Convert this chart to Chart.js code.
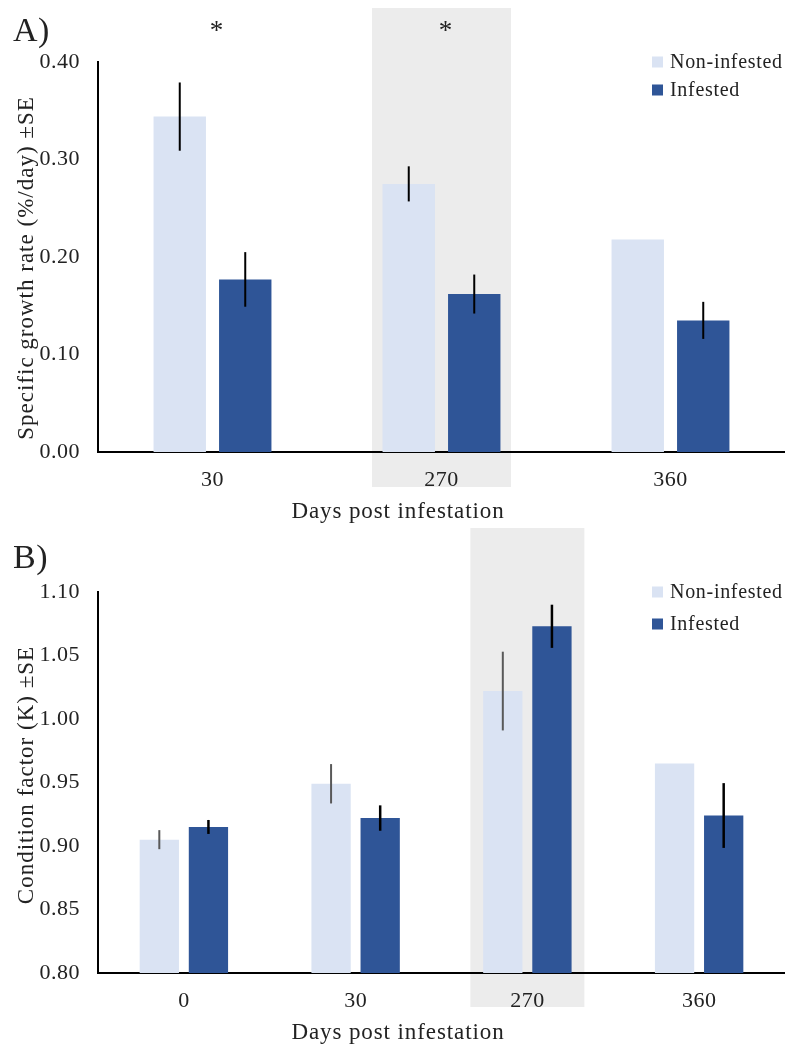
<!DOCTYPE html>
<html>
<head>
<meta charset="utf-8">
<script src="https://cdn.jsdelivr.net/npm/chart.js@4.4.1/dist/chart.umd.min.js"></script>
<style>
  html, body { margin: 0; padding: 0; background: #fff; }
  #wrap { position: relative; width: 785px; height: 1046px; }
  .panel { position: absolute; left: 0; width: 785px; }
  #panelA { top: 0; height: 525px; }
  #panelB { top: 525px; height: 521px; }
</style>
</head>
<body>
<div id="wrap">
  <div class="panel" id="panelA"><canvas id="chartA"></canvas></div>
  <div class="panel" id="panelB"><canvas id="chartB"></canvas></div>
</div>
<script>
const seriesNames = ['Non-infested', 'Infested'];
const colNon = '#dae3f3';
const colInf = '#2f5597';

// A) specific growth rate
const daysA = ['30', '270', '360'];
const sgrNon = [0.344, 0.275, 0.218];
const sgrNonSE = [0.035, 0.018, 0];
const sgrInf = [0.177, 0.162, 0.135];
const sgrInfSE = [0.028, 0.020, 0.019];
const sgrTicks = [0, 0.1, 0.2, 0.3, 0.4];
const sgrStars = ['*', '*', ''];

// B) condition factor
const daysB = ['0', '30', '270', '360'];
const kNon = [0.905, 0.949, 1.022, 0.965];
const kNonSE = [0.0075, 0.0155, 0.031, 0];
const kInf = [0.915, 0.922, 1.073, 0.924];
const kInfSE = [0.0055, 0.010, 0.017, 0.0255];
const kTicks = [0.8, 0.85, 0.9, 0.95, 1.0, 1.05, 1.1];
const kStars = ['', '', '', ''];

const serif = '"Liberation Serif", "Times New Roman", serif';
const ink = '#222';

// shaded column, error bars, stars, legend, titles and panel letter
const decor = {
    id: 'decor',
    beforeDraw(chart, args, o) {
        const { ctx, scales: { x } } = chart;
        const w = x.width / chart.data.labels.length * o.bandFrac;
        const cx = x.getPixelForValue(o.bandIndex);
        ctx.save();
        ctx.fillStyle = '#ececec';
        ctx.fillRect(cx - w / 2, o.bandTop, w, o.bandBottom - o.bandTop);
        ctx.restore();
        // tick labels are a bit spread out
        ctx.letterSpacing = '0.5px';
    },
    afterDatasetsDraw(chart, args, o) {
        const { ctx, scales: { x, y } } = chart;
        ctx.save();
        chart.data.datasets.forEach((ds, i) => {
            const meta = chart.getDatasetMeta(i);
            meta.data.forEach((bar, j) => {
                const se = ds.se[j];
                if (!se) return;
                ctx.strokeStyle = ds.errColor;
                ctx.lineWidth = ds.errWidth;
                ctx.beginPath();
                ctx.moveTo(bar.x, y.getPixelForValue(ds.data[j] + se));
                ctx.lineTo(bar.x, y.getPixelForValue(ds.data[j] - se));
                ctx.stroke();
            });
        });

        // significance stars
        ctx.letterSpacing = '0px';
        ctx.fillStyle = ink;
        ctx.font = '27px ' + serif;
        ctx.textAlign = 'center';
        ctx.textBaseline = 'alphabetic';
        o.stars.forEach((s, i) => {
            if (s) ctx.fillText(s, x.getPixelForValue(i) + 4, o.starY);
        });

        // legend
        ctx.letterSpacing = '0.7px';
        ctx.font = '20px ' + serif;
        ctx.textAlign = 'left';
        ctx.textBaseline = 'middle';
        chart.data.datasets.forEach((ds, i) => {
            const cy = o.legendY[i];
            ctx.fillStyle = ds.backgroundColor;
            ctx.fillRect(652, cy - 5.5, 11, 11);
            ctx.fillStyle = ink;
            ctx.fillText(ds.label, 670, cy + 1);
        });

        // panel letter
        ctx.letterSpacing = '0.5px';
        ctx.font = '34px ' + serif;
        ctx.textBaseline = 'alphabetic';
        ctx.fillText(o.letter, 13, o.letterY);

        // axis titles
        ctx.letterSpacing = '0.9px';
        ctx.font = '23px ' + serif;
        ctx.textAlign = 'center';
        ctx.textBaseline = 'middle';
        ctx.fillText('Days post infestation', 398, o.xTitleY);

        ctx.letterSpacing = '1px';
        ctx.translate(27, o.yTitleY);
        ctx.rotate(-Math.PI / 2);
        ctx.fillText(o.yTitle, 0, 0);
        ctx.restore();
    }
};

function makeChart(id, labels, non, nonSE, inf, infSE, yTicks, topPad, deco) {
    const ctx = document.getElementById(id).getContext('2d');
    return new Chart(ctx, {
        type: 'bar',
        data: {
            labels: labels,
            datasets: [{
                label: seriesNames[0],
                data: non,
                se: nonSE,
                errColor: deco.nonErrColor,
                errWidth: deco.nonErrWidth,
                backgroundColor: colNon,
                categoryPercentage: 0.572,
                barPercentage: 0.8
            }, {
                label: seriesNames[1],
                data: inf,
                se: infSE,
                errColor: '#000',
                errWidth: deco.infErrWidth,
                backgroundColor: colInf,
                categoryPercentage: 0.572,
                barPercentage: 0.8
            }]
        },
        options: {
            responsive: true,
            maintainAspectRatio: false,
            animation: false,
            layout: { padding: { top: topPad, right: 0, bottom: 0, left: 0 } },
            plugins: {
                legend: { display: false },
                tooltip: { enabled: false },
                decor: deco
            },
            scales: {
                x: {
                    afterFit: s => { s.height = 73; },
                    grid: { display: false, drawTicks: false },
                    border: { display: true, color: '#000', width: 2 },
                    ticks: { padding: 15, color: ink, font: { family: serif, size: 22 } }
                },
                y: {
                    min: yTicks[0],
                    max: yTicks[yTicks.length - 1],
                    afterFit: s => { s.width = 98; },
                    afterBuildTicks: s => { s.ticks = yTicks.map(v => ({ value: v })); },
                    grid: { display: false, drawTicks: false },
                    border: { display: true, color: '#000', width: 2 },
                    ticks: {
                        padding: 18,
                        color: ink,
                        font: { family: serif, size: 22 },
                        callback: v => Number(v).toFixed(2)
                    }
                }
            }
        },
        plugins: [decor]
    });
}

makeChart('chartA', daysA, sgrNon, sgrNonSE, sgrInf, sgrInfSE, sgrTicks, 62, {
    bandIndex: 1, bandFrac: 0.607, bandTop: 8, bandBottom: 487,
    stars: sgrStars, starY: 39,
    legendY: [62, 90],
    letter: 'A)', letterY: 41,
    xTitleY: 512,
    yTitle: 'Specific growth rate (%/day) ±SE', yTitleY: 268,
    nonErrColor: '#000', nonErrWidth: 2, infErrWidth: 2
});

makeChart('chartB', daysB, kNon, kNonSE, kInf, kInfSE, kTicks, 67, {
    bandIndex: 2, bandFrac: 0.664, bandTop: 3, bandBottom: 482,
    stars: kStars, starY: 0,
    legendY: [67, 99],
    letter: 'B)', letterY: 43,
    xTitleY: 508,
    yTitle: 'Condition factor (K) ±SE', yTitleY: 250,
    nonErrColor: '#595959', nonErrWidth: 2, infErrWidth: 2.5
});
</script>
</body>
</html>
